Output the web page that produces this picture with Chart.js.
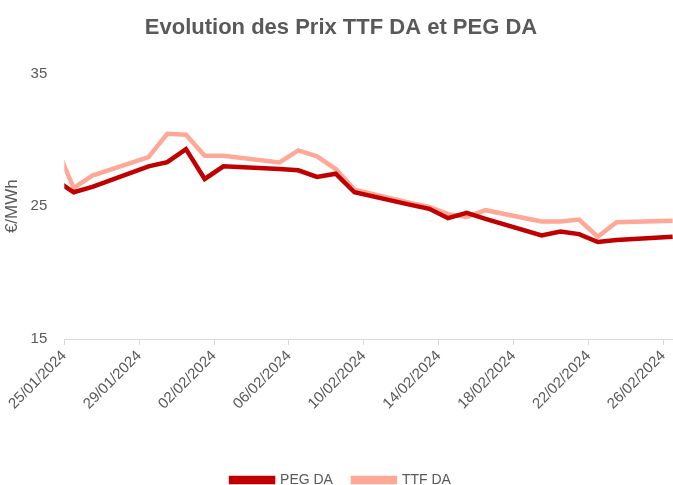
<!DOCTYPE html>
<html lang="fr">
<head>
  <meta charset="UTF-8" />
  <title>Evolution des Prix TTF DA et PEG DA</title>
  <script src="https://cdn.jsdelivr.net/npm/chart.js"></script>
  <style>
    html, body {
      margin: 0;
      padding: 0;
      background: #ffffff;
      overflow: hidden;
    }
    canvas {
      display: block;
    }
  </style>
</head>
<body>
  <canvas id="prixChart" width="683" height="485"></canvas>

  <script>
    // Jours de cotation (les week-ends ne sont pas cotés)
    const dates = [
      '24/01/2024', '25/01/2024', '26/01/2024', '29/01/2024', '30/01/2024', '31/01/2024',
      '01/02/2024', '02/02/2024', '05/02/2024', '06/02/2024', '07/02/2024', '08/02/2024',
      '09/02/2024', '12/02/2024', '13/02/2024', '14/02/2024', '15/02/2024', '16/02/2024',
      '19/02/2024', '20/02/2024', '21/02/2024', '22/02/2024', '23/02/2024', '26/02/2024'
    ];
    const pegDA = [27.0, 26.05, 26.45, 28.0, 28.32, 29.3, 27.05, 28.0, 27.8, 27.7, 27.2, 27.45,
                   26.05, 25.1, 24.8, 24.1, 24.5, 24.05, 22.8, 23.1, 22.9, 22.3, 22.45, 22.7];
    const ttfDA = [29.7, 26.37, 27.3, 28.7, 30.45, 30.38, 28.8, 28.8, 28.3, 29.2, 28.75, 27.8,
                   26.25, 25.25, 24.95, 24.4, 24.2, 24.7, 23.85, 23.85, 24.0, 22.7, 23.8, 23.9];
    const yTicks = [15, 25, 35];

    const debut = new Date(2024, 0, 25);
    const jour = 24 * 3600 * 1000;

    function toDay(s) {
      const [d, m, y] = s.split('/').map(Number);
      return Math.round((new Date(y, m - 1, d) - debut) / jour);
    }
    function fmt(n) {
      const d = new Date(2024, 0, 25 + n);
      const p = v => String(v).padStart(2, '0');
      return p(d.getDate()) + '/' + p(d.getMonth() + 1) + '/' + d.getFullYear();
    }
    // point au milieu de la journée, comme un axe de dates Excel
    const serie = vals => dates.map((s, i) => ({ x: toDay(s) + 0.5, y: vals[i] }));

    const police = "'Liberation Sans', sans-serif";
    const gris = '#595959';

    new Chart(document.getElementById('prixChart').getContext('2d'), {
      type: 'line',
      data: {
        datasets: [
          {
            label: 'PEG DA',
            data: serie(pegDA),
            borderColor: '#C00000',
            backgroundColor: '#C00000',
            borderWidth: 4.5,
            pointRadius: 0,
            tension: 0
          },
          {
            label: 'TTF DA',
            data: serie(ttfDA),
            borderColor: '#FFA898',
            backgroundColor: '#FFA898',
            borderWidth: 4.5,
            pointRadius: 0,
            tension: 0
          }
        ]
      },
      options: {
        responsive: false,
        animation: false,
        layout: { padding: { left: 0, right: 1, top: 0, bottom: -12 } },
        plugins: {
          title: {
            display: true,
            text: 'Evolution des Prix TTF DA et PEG DA',
            color: gris,
            font: { family: police, size: 22, weight: 'bold' },
            padding: { top: 15, bottom: 32 }
          },
          legend: {
            position: 'bottom',
            labels: {
              color: gris,
              font: { family: police, size: 14 },
              boxWidth: 42,
              boxHeight: 4,
              padding: 20
            }
          },
          tooltip: { enabled: false }
        },
        scales: {
          x: {
            type: 'linear',
            min: 0,
            max: 33,
            afterBuildTicks: s => { s.ticks = [0, 4, 8, 12, 16, 20, 24, 28, 32].map(v => ({ value: v })); },
            afterFit: s => { s.height = 114; },
            ticks: {
              callback: v => fmt(v),
              color: gris,
              font: { family: police, size: 15 },
              minRotation: 45,
              maxRotation: 45,
              autoSkip: false,
              padding: 2
            },
            grid: {
              drawOnChartArea: false,
              color: '#d9d9d9',
              tickLength: 6
            },
            border: { color: '#d9d9d9' }
          },
          y: {
            min: 15,
            max: 35,
            afterBuildTicks: s => { s.ticks = yTicks.map(v => ({ value: v })); },
            afterFit: s => { s.width = 64.3; },
            title: {
              display: true,
              text: '€/MWh',
              color: gris,
              font: { family: police, size: 17 },
              padding: 2
            },
            ticks: {
              color: gris,
              font: { family: police, size: 15 },
              padding: 9
            },
            grid: { display: false },
            border: { display: false }
          }
        }
      }
    });
  </script>
</body>
</html>
